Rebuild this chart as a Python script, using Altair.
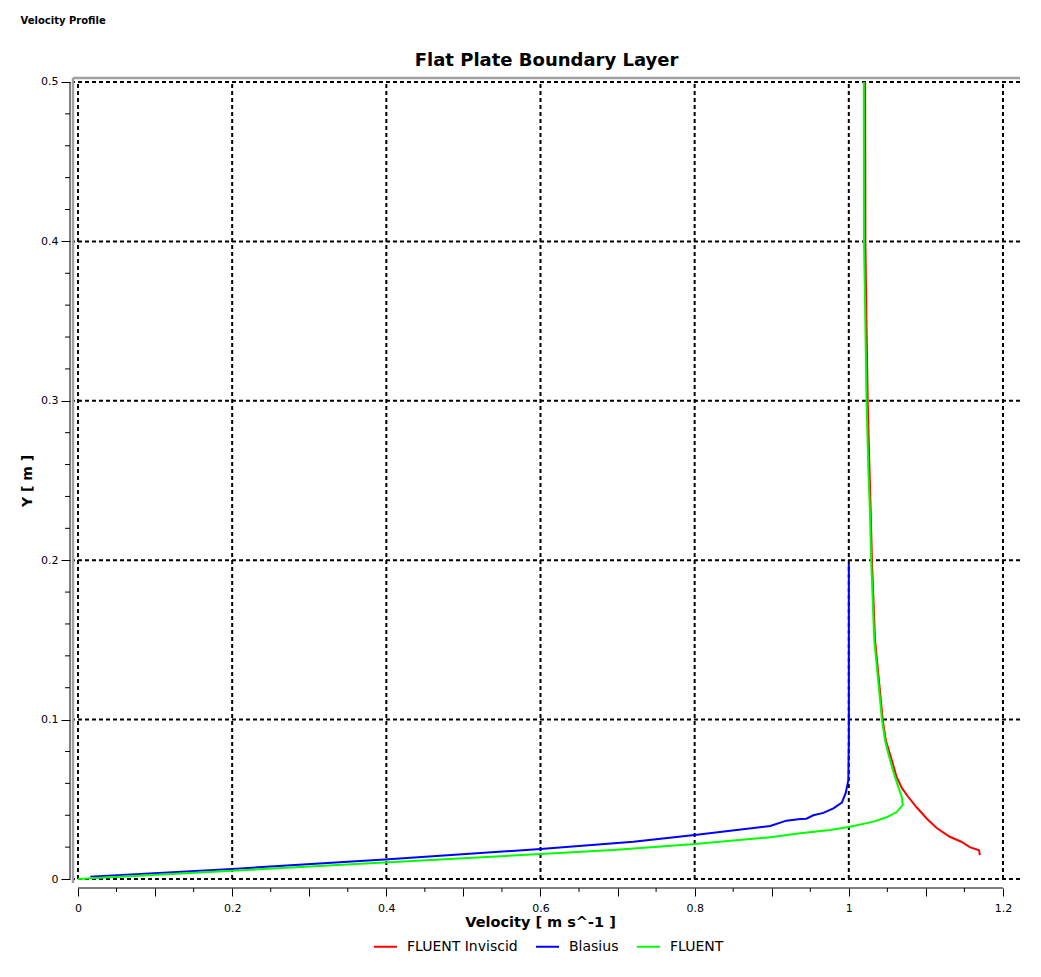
import altair as alt
import pandas as pd

# ---------------- data ----------------
series_names = ["FLUENT Inviscid", "Blasius", "FLUENT"]
series_colors = ["#ff0000", "#0000ff", "#00ff00"]

inv_x = [1.170, 1.169, 1.157, 1.146, 1.131, 1.114, 1.101, 1.088, 1.077, 1.069,
         1.062, 1.0557, 1.048, 1.044, 1.034, 1.030, 1.0285, 1.027, 1.0245,
         1.0225, 1.0215, 1.0212]
inv_y = [0.015, 0.018, 0.020, 0.0234, 0.0265, 0.032, 0.038, 0.045, 0.0516, 0.057,
         0.064, 0.0747, 0.087, 0.100, 0.150, 0.200, 0.229, 0.2545, 0.300,
         0.363, 0.400, 0.500]

bla_x = [0.016, 0.2, 0.403, 0.6, 0.7205, 0.8, 0.898, 0.919, 0.937, 0.945,
         0.954, 0.967, 0.980, 0.991, 0.996, 0.9994, 1.0, 1.0]
bla_y = [0.0015, 0.0063, 0.0124, 0.0188, 0.0234, 0.0276, 0.0333, 0.0366, 0.0376, 0.0378,
         0.040, 0.0415, 0.0443, 0.048, 0.054, 0.062, 0.087, 0.198]

flu_x = [0.0, 0.2, 0.403, 0.6, 0.6945, 0.8, 0.898, 0.937, 0.9756, 1.0016,
         1.032, 1.049, 1.062, 1.070, 1.0686, 1.064, 1.058, 1.051, 1.047,
         1.043, 1.033, 1.029, 1.0275, 1.0255, 1.023, 1.021, 1.0197, 1.0195]
flu_y = [0.0, 0.0052, 0.0105, 0.0157, 0.0182, 0.022, 0.0262, 0.0287, 0.0307, 0.0328,
         0.036, 0.0387, 0.042, 0.0464, 0.0516, 0.058, 0.067, 0.079, 0.087,
         0.100, 0.150, 0.200, 0.229, 0.2545, 0.300, 0.363, 0.400, 0.500]

# axis ticks / grid
x_major = [0.0, 0.1, 0.2, 0.3, 0.4, 0.5, 0.6, 0.7, 0.8, 0.9, 1.0, 1.1, 1.2]
x_grid = [0.0, 0.2, 0.4, 0.6, 0.8, 1.0, 1.2]
x_minor = [0.05, 0.15, 0.25, 0.35, 0.45, 0.55, 0.65, 0.75, 0.85, 0.95, 1.05, 1.15]
y_major = [0.0, 0.1, 0.2, 0.3, 0.4, 0.5]
y_minor = [0.02, 0.04, 0.06, 0.08, 0.12, 0.14, 0.16, 0.18, 0.22, 0.24, 0.26, 0.28,
           0.32, 0.34, 0.36, 0.38, 0.42, 0.44, 0.46, 0.48]
x_axis_span = [0.0, 1.2]
y_axis_span = [0.0, 0.5]
x_domain = [-0.0065, 1.2221]
y_domain = [-0.0025, 0.5025]

# ---------------- styling ----------------
W, H = 947, 805
FONT = "DejaVu Sans"

xscale = alt.Scale(domain=x_domain, nice=False, zero=False)
yscale = alt.Scale(domain=y_domain, nice=False, zero=False)

xaxis = alt.Axis(values=x_major, format=".1~f",
                 labelExpr="round(datum.value*10) % 2 == 0 ? datum.label : ''",
                 grid=False, domain=False, tickSize=8, tickColor="black", tickWidth=1,
                 offset=5, labelFont=FONT, labelFontSize=11, labelColor="black",
                 labelPadding=6, title="Velocity [ m s^-1 ]", titleFont=FONT,
                 titleFontSize=14.5, titleFontWeight="bold", titleColor="black",
                 titlePadding=2, titleX=467)
yaxis = alt.Axis(values=y_major, format=".1~f", grid=False, domain=False,
                 tickSize=9, tickColor="black", tickWidth=1, offset=3,
                 labelFont=FONT, labelFontSize=11, labelColor="black", labelPadding=3,
                 title="Y [ m ]", titleFont=FONT, titleFontSize=14,
                 titleFontWeight="bold", titleColor="black", titlePadding=6)

X = alt.X("x:Q", scale=xscale, axis=xaxis)
Y = alt.Y("y:Q", scale=yscale, axis=yaxis)

color = alt.Color("series:N",
                  scale=alt.Scale(domain=series_names, range=series_colors),
                  legend=alt.Legend(title=None, orient="none", direction="horizontal",
                                    legendX=300, legendY=856, symbolType="stroke",
                                    symbolStrokeWidth=2, symbolSize=529,
                                    labelFont=FONT, labelFontSize=14, labelColor="black",
                                    labelOffset=9, columnPadding=14))

def curve_df(xs, ys, name):
    return pd.DataFrame({"x": xs, "y": ys, "series": name, "order": list(range(len(xs)))})

df_inv = curve_df(inv_x, inv_y, series_names[0])
df_bla = curve_df(bla_x, bla_y, series_names[1])
df_flu = curve_df(flu_x, flu_y, series_names[2])

grid_style = dict(color="black", strokeWidth=2, strokeDash=[4, 3])

hgrid = alt.Chart(pd.DataFrame({"y": y_major})).mark_rule(**grid_style).encode(y=Y)
vgrid = alt.Chart(pd.DataFrame({"x": x_grid, "y": y_axis_span[0], "y2": y_axis_span[1]})
                  ).mark_rule(**grid_style).encode(x=X, y=Y, y2="y2:Q")

frame_left = alt.Chart(pd.DataFrame({"y": [0]})).mark_rule(color="#a0a0a0", strokeWidth=2.5).encode(
    x=alt.value(0))
frame_top = alt.Chart(pd.DataFrame({"y": [0]})).mark_rule(color="#a0a0a0", strokeWidth=2.5).encode(
    y=alt.value(0))

x_line = alt.Chart(pd.DataFrame({"x": [x_axis_span[0]], "x2": [x_axis_span[1]]})).mark_rule(
    color="black", strokeWidth=1).encode(x=X, x2="x2:Q", y=alt.value(H + 5))
y_line = alt.Chart(pd.DataFrame({"y": [y_axis_span[0]], "y2": [y_axis_span[1]]})).mark_rule(
    color="black", strokeWidth=1).encode(y=Y, y2="y2:Q", x=alt.value(-3))

x_minor_ticks = alt.Chart(pd.DataFrame({"x": x_minor})).mark_rule(color="black", strokeWidth=1).encode(
    x=X, y=alt.value(H + 5), y2=alt.value(H + 9))
y_minor_ticks = alt.Chart(pd.DataFrame({"y": y_minor})).mark_rule(color="black", strokeWidth=1).encode(
    y=Y, x=alt.value(-3), x2=alt.value(-8))

def curve(df):
    return alt.Chart(df).mark_line(strokeWidth=2, interpolate="linear").encode(
        x=X, y=Y, color=color, order="order:Q")

main = alt.layer(
    hgrid, vgrid, frame_left, frame_top, x_line, y_line, x_minor_ticks, y_minor_ticks,
    curve(df_inv), curve(df_bla), curve(df_flu)
).properties(
    width=W, height=H,
    title=alt.Title("Flat Plate Boundary Layer", font=FONT, fontSize=18, fontWeight="bold",
                    color="black", anchor="middle", frame="group", offset=6)
)

chart = alt.vconcat(
    main,
    title=alt.Title("Velocity Profile", font=FONT, fontSize=10, fontWeight="bold",
                    color="black", anchor="start", offset=26)
).properties(
    padding={"left": 12, "top": 7, "right": 5, "bottom": 5}
).configure_view(stroke=None)

chart.save("out.html", embed_options={"renderer": "svg", "actions": False})
